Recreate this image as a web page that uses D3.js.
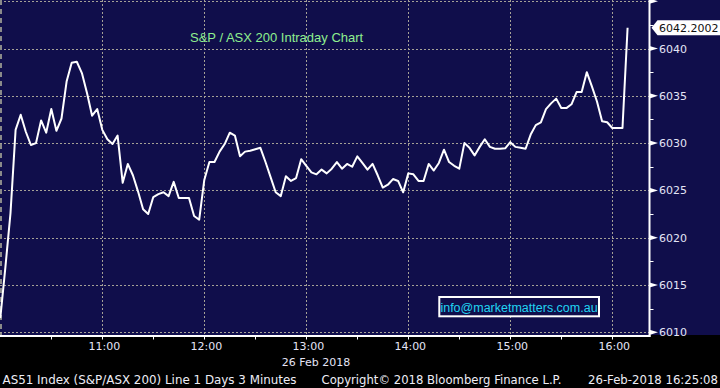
<!DOCTYPE html>
<html><head><meta charset="utf-8">
<script src="https://cdn.jsdelivr.net/npm/d3@7"></script>
<style>html,body{margin:0;padding:0;background:#000;} svg{display:block}</style>
</head><body><svg id="c" width="720" height="388"></svg>
<script>
// ---------- DATA ----------
const times = [
"10:00","10:03","10:06","10:09","10:12","10:15","10:18","10:21","10:24","10:27",
"10:30","10:33","10:36","10:39","10:42","10:45","10:48","10:51","10:54","10:57",
"11:00","11:03","11:06","11:09","11:12","11:15","11:18","11:21","11:24","11:27",
"11:30","11:33","11:36","11:39","11:42","11:45","11:48","11:51","11:54","11:57",
"12:00","12:03","12:06","12:09","12:12","12:15","12:18","12:21","12:24","12:27",
"12:30","12:33","12:36","12:39","12:42","12:45","12:48","12:51","12:54","12:57",
"13:00","13:03","13:06","13:09","13:12","13:15","13:18","13:21","13:24","13:27",
"13:30","13:33","13:36","13:39","13:42","13:45","13:48","13:51","13:54","13:57",
"14:00","14:03","14:06","14:09","14:12","14:15","14:18","14:21","14:24","14:27",
"14:30","14:33","14:36","14:39","14:42","14:45","14:48","14:51","14:54","14:57",
"15:00","15:03","15:06","15:09","15:12","15:15","15:18","15:21","15:24","15:27",
"15:30","15:33","15:36","15:39","15:42","15:45","15:48","15:51","15:54","15:57",
"16:00","16:03","16:06","16:09"];
const values = [
6011.5,6016.9,6022.6,6031.4,6033.0,6031.2,6029.8,6030.0,6032.4,6031.1,
6033.6,6031.3,6032.6,6036.5,6038.5,6038.6,6037.4,6035.3,6032.9,6033.6,
6031.4,6030.4,6029.9,6030.8,6025.8,6027.8,6026.6,6024.9,6023.0,6022.5,
6024.3,6024.6,6024.8,6024.4,6025.9,6024.2,6024.2,6024.2,6022.3,6021.9,
6026.1,6028.0,6028.0,6029.1,6029.9,6031.1,6030.8,6028.6,6029.1,6029.2,
6029.35,6029.5,6028.0,6026.4,6024.8,6024.4,6026.5,6026.0,6026.3,6028.3,
6027.6,6026.9,6026.7,6027.2,6026.8,6027.3,6028.0,6027.3,6027.8,6027.5,
6028.6,6027.9,6027.2,6027.8,6026.6,6025.3,6025.6,6026.2,6026.0,6024.8,
6026.8,6026.7,6026.0,6026.0,6027.8,6027.1,6027.9,6029.3,6028.0,6027.6,
6027.3,6030.0,6029.5,6028.7,6029.6,6030.4,6029.6,6029.4,6029.4,6029.45,
6030.1,6029.6,6029.5,6029.4,6030.9,6031.9,6032.2,6033.6,6034.2,6034.7,
6033.7,6033.7,6034.1,6035.4,6035.4,6037.5,6036.0,6034.4,6032.3,6032.2,
6031.6,6031.6,6031.6,6042.2002];
const yMajorTicks = [6010,6015,6020,6025,6030,6035,6040,6045];
const yLabelTicks = [6010,6015,6020,6025,6030,6035,6040];
const yMinorTicks = [6012.5,6017.5,6022.5,6027.5,6032.5,6037.5,6042.5];
const xHourTicks = ["11:00","12:00","13:00","14:00","15:00","16:00"];
const xHalfTicks = ["10:30","11:00","11:30","12:00","12:30","13:00","13:30","14:00","14:30","15:00","15:30","16:00"];
const axisStart = "10:00";
const axisEnd = "16:21:36";
const titleText = "S&P / ASX 200 Intraday Chart";
const watermarkText = "info@marketmatters.com.au";
const dateText = "26 Feb 2018";
const footerLeft = "AS51 Index (S&P/ASX 200) Line 1 Days 3 Minutes";
const footerMid = "Copyright\u00A9 2018 Bloomberg Finance L.P.";
const footerRight = "26-Feb-2018 16:25:08";

// ---------- CHART ----------
const svg = d3.select("#c");
const W = 720, H = 388;
const plotR = 649.5, plotB = 335;
const navy = "#100e4b";
const parseHM = d3.timeParse("%H:%M");
const parseHMS = d3.timeParse("%H:%M:%S");

const x = d3.scaleTime().domain([parseHM(axisStart), parseHMS(axisEnd)]).range([0.3, 649]);
const y = d3.scaleLinear().domain([6010, 6045]).range([332.3, 1.2]);

svg.append("rect").attr("width", W).attr("height", H).attr("fill", "#000");
svg.append("rect").attr("width", W).attr("height", plotB).attr("fill", navy);

// grid
const grid = svg.append("g").attr("stroke", "#a5a196").attr("stroke-width", 1).attr("stroke-dasharray", "2,2").attr("fill", "none");
grid.selectAll("line.h").data(yMajorTicks).join("line")
  .attr("x1", 0).attr("x2", plotR).attr("y1", d => Math.round(y(d)) + 0.5).attr("y2", d => Math.round(y(d)) + 0.5);
grid.selectAll("line.v").data(xHourTicks).join("line")
  .attr("y1", 0).attr("y2", plotB).attr("x1", d => Math.round(x(parseHM(d))) + 0.5).attr("x2", d => Math.round(x(parseHM(d))) + 0.5);
// left edge (session start) line
svg.append("line").attr("x1", 1).attr("x2", 1).attr("y1", 0).attr("y2", plotB)
  .attr("stroke", "#8a8a8a").attr("stroke-width", 2).attr("stroke-dasharray", "5,4");

// title
svg.append("text").attr("x", 190).attr("y", 42).text(titleText)
  .attr("font-family", "Liberation Sans, Arial, sans-serif").attr("font-size", 13).attr("fill", "#8fee8f");

// line
const pts = times.map((t, i) => [parseHM(t), values[i]]);
svg.append("path").datum(pts)
  .attr("d", d3.line().x(d => x(d[0])).y(d => y(d[1])))
  .attr("fill", "none").attr("stroke", "#ffffff").attr("stroke-width", 2).attr("stroke-linejoin", "round");

// watermark box
const wm = svg.append("g");
wm.append("rect").attr("x", 439.3).attr("y", 297).attr("width", 159.7).attr("height", 19.3)
  .attr("fill", navy).attr("stroke", "#ffffff").attr("stroke-width", 2);
wm.append("text").attr("x", 519).attr("y", 312).attr("text-anchor", "middle").text(watermarkText)
  .attr("font-family", "Liberation Sans, Arial, sans-serif").attr("font-size", 12.5).attr("fill", "#20d4f2");

// axes lines
svg.append("line").attr("x1", 0).attr("x2", plotR + 1).attr("y1", 336).attr("y2", 336).attr("stroke", "#fff").attr("stroke-width", 2);
svg.append("line").attr("x1", plotR).attr("x2", plotR).attr("y1", 0).attr("y2", 337).attr("stroke", "#fff").attr("stroke-width", 2);

// bottom ticks
svg.selectAll("line.bt").data(xHalfTicks).join("line")
  .attr("x1", d => Math.round(x(parseHM(d))) + 0.5).attr("x2", d => Math.round(x(parseHM(d))) + 0.5)
  .attr("y1", 337).attr("y2", 339.5).attr("stroke", "#fff").attr("stroke-width", 1);

const axisFont = "DejaVu Sans, Verdana, sans-serif";
const axisCol = "#e4e4f6";
svg.selectAll("text.xl").data(xHourTicks).join("text")
  .attr("x", d => x(parseHM(d)) + 2).attr("y", 350).attr("text-anchor", "middle").text(d => d)
  .attr("font-family", axisFont).attr("font-size", 11).attr("fill", axisCol);
svg.append("text").attr("x", 316).attr("y", 366).attr("text-anchor", "middle").text(dateText)
  .attr("font-family", axisFont).attr("font-size", 11).attr("fill", axisCol);

// right axis
svg.selectAll("path.tri").data(yMajorTicks).join("path")
  .attr("d", d => { const yy = y(d); return `M${plotR},${yy - 2.6}L${plotR + 8.5},${yy}L${plotR},${yy + 2.6}Z`; })
  .attr("fill", "#fff");
svg.selectAll("line.mt").data(yMinorTicks).join("line")
  .attr("x1", plotR).attr("x2", plotR + 4).attr("y1", d => Math.round(y(d)) + 0.5).attr("y2", d => Math.round(y(d)) + 0.5)
  .attr("stroke", "#fff").attr("stroke-width", 1);
svg.selectAll("text.yl").data(yLabelTicks).join("text")
  .attr("x", 659).attr("y", d => y(d) + 4).text(d => d)
  .attr("font-family", axisFont).attr("font-size", 11).attr("fill", axisCol);

// last value marker
const lastV = values[values.length - 1];
const ly = y(lastV);
svg.append("path")
  .attr("d", `M651.5,${ly}L657.5,${ly - 7.5}L720,${ly - 7.5}L720,${ly + 7.5}L657.5,${ly + 7.5}Z`)
  .attr("fill", "#ffffff");
svg.append("text").attr("x", 659).attr("y", ly + 4).text(d3.format(".4f")(lastV))
  .attr("font-family", axisFont).attr("font-size", 11).attr("fill", "#111");

// footer
const ff = svg.append("g").attr("font-family", axisFont).attr("font-size", 11.5).attr("fill", "#eeeef6");
ff.append("text").attr("x", 2.5).attr("y", 383.5).text(footerLeft).attr("textLength", 294).attr("lengthAdjust", "spacingAndGlyphs");
ff.append("text").attr("x", 321.5).attr("y", 383.5).text(footerMid).attr("textLength", 240).attr("lengthAdjust", "spacingAndGlyphs");
ff.append("text").attr("x", 588).attr("y", 383.5).text(footerRight).attr("textLength", 130).attr("lengthAdjust", "spacingAndGlyphs");
</script></body></html>
